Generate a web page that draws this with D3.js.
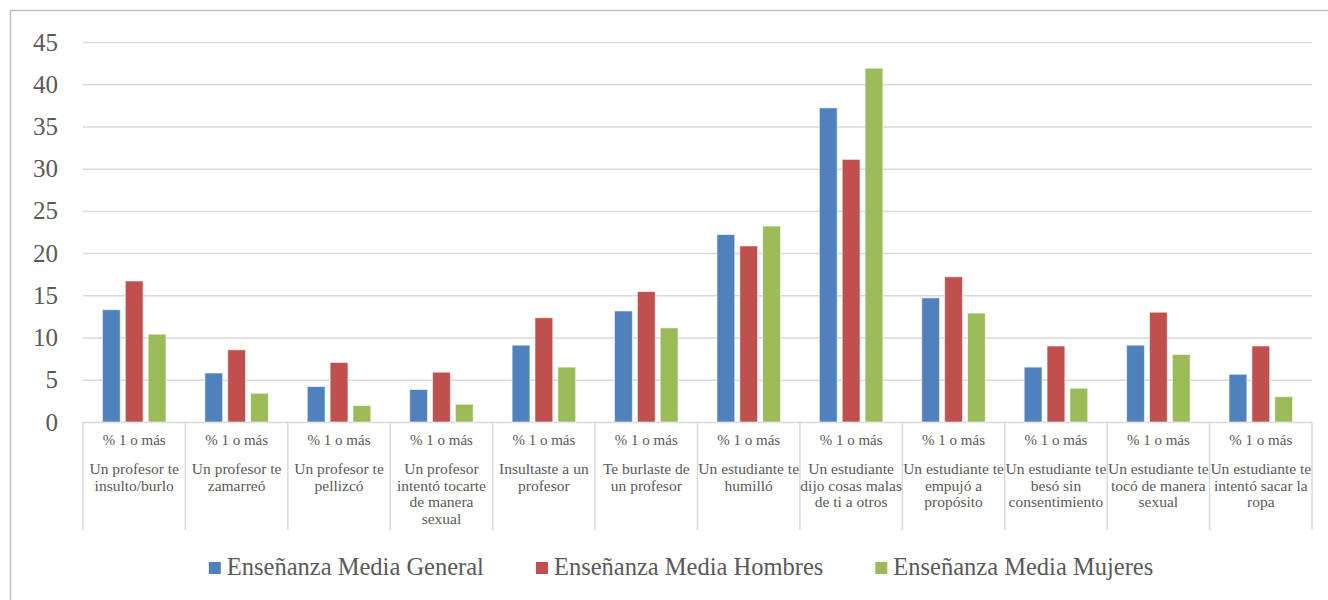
<!DOCTYPE html>
<html>
<head>
<meta charset="utf-8">
<script src="https://cdn.jsdelivr.net/npm/d3@7"></script>
<style>
	html, body { margin: 0; padding: 0; background: #fff; overflow: hidden; }
	svg { display: block; }
	text { font-family: 'Liberation Serif', 'Times New Roman', serif; fill: #595959; }
</style>
</head>
<body>
<div id="area1"></div>
<script>
// DATA
var subLabel = '% 1 o más';
var categories = [
	['Un profesor te', 'insulto/burlo'],
	['Un profesor te', 'zamarreó'],
	['Un profesor te', 'pellizcó'],
	['Un profesor', 'intentó tocarte', 'de manera', 'sexual'],
	['Insultaste a un', 'profesor'],
	['Te burlaste de', 'un profesor'],
	['Un estudiante te', 'humilló'],
	['Un estudiante', 'dijo cosas malas', 'de ti a otros'],
	['Un estudiante te', 'empujó a', 'propósito'],
	['Un estudiante te', 'besó sin', 'consentimiento'],
	['Un estudiante te', 'tocó de manera', 'sexual'],
	['Un estudiante te', 'intentó sacar la', 'ropa']
];
var seriesNames = ['Enseñanza Media General', 'Enseñanza Media Hombres', 'Enseñanza Media Mujeres'];
var general = [13.3, 5.8, 4.2, 3.85, 9.1, 13.15, 22.2, 37.2, 14.7, 6.5, 9.1, 5.65];
var hombres = [16.7, 8.55, 7.05, 5.9, 12.35, 15.45, 20.85, 31.1, 17.2, 9.0, 13.0, 9.0];
var mujeres = [10.4, 3.4, 1.95, 2.1, 6.5, 11.15, 23.2, 41.9, 12.9, 4.0, 8.0, 3.0];
var yTicks = [0, 5, 10, 15, 20, 25, 30, 35, 40, 45];
var colors = ['#4F81BD', '#C0504D', '#9BBB59'];

var seriesValues = [general, hombres, mujeres];

// BOUNDS
var width = 1328, height = 600;
var margin = {top: 42, left: 83},
	innerWidth = 1229,
	innerHeight = 380;

var svg = d3.select('#area1')
	.append('svg')
	.attr('width', width)
	.attr('height', height);

// outer frame (left + top only, picture is cropped)
svg.append('path')
	.attr('d', 'M10.5,' + height + 'V10.5H' + width)
	.attr('fill', 'none')
	.attr('stroke', '#BFBFBF')
	.attr('stroke-width', 1.5);

var chart = svg.append('g')
	.attr('transform', 'translate(' + margin.left + ',' + margin.top + ')');

// SCALE
var idx = d3.range(categories.length);
var x0 = d3.scaleBand().domain(idx).range([0, innerWidth]).padding(0);
var x1 = d3.scaleBand().domain([0, 1, 2]).range([0, x0.bandwidth()])
	.paddingInner(0.22).paddingOuter(0.85);
var yScale = d3.scaleLinear().domain([0, 45]).range([innerHeight, 0]);

// Y AXIS + GRID
var yAxis = chart.append('g')
	.call(d3.axisLeft(yScale).tickValues(yTicks).tickSize(-innerWidth).tickPadding(25));
yAxis.select('.domain').remove();
yAxis.attr('font-family', null);
yAxis.selectAll('line').attr('stroke', '#D9D9D9').attr('stroke-width', 1.5);
yAxis.selectAll('text')
	.style('font-family', "'Liberation Serif', serif")
	.style('font-size', '25px')
	.attr('fill', '#595959');

// BARS
idx.forEach(function(i) {
	var g = chart.append('g').attr('transform', 'translate(' + x0(i) + ',0)');
	seriesValues.forEach(function(vals, s) {
		g.append('rect')
			.attr('x', x1(s))
			.attr('width', x1.bandwidth())
			.attr('y', yScale(vals[i]))
			.attr('height', innerHeight - yScale(vals[i]))
			.attr('fill', colors[s])
			.attr('stroke', '#fff')
			.attr('stroke-opacity', 0.6)
			.attr('stroke-width', 1);
	});
});

// X CATEGORY DIVIDERS
var edges = idx.map(function(i) { return x0(i); }).concat([innerWidth]);
chart.selectAll('.divider')
	.data(edges)
	.enter().append('line')
	.attr('class', 'divider')
	.attr('x1', function(d) { return d; })
	.attr('x2', function(d) { return d; })
	.attr('y1', innerHeight)
	.attr('y2', innerHeight + 108)
	.attr('stroke', '#D9D9D9')
	.attr('stroke-width', 1.5);

// X LABELS
idx.forEach(function(i) {
	var cx = x0(i) + x0.bandwidth() / 2;
	chart.append('text')
		.attr('x', cx)
		.attr('y', innerHeight + 23)
		.attr('text-anchor', 'middle')
		.style('font-size', '15px')
		.text(subLabel);
	categories[i].forEach(function(line, k) {
		chart.append('text')
			.attr('x', cx)
			.attr('y', innerHeight + 52 + k * 16.7)
			.attr('text-anchor', 'middle')
			.style('font-size', '15.5px')
			.text(line);
	});
});

// LEGEND
var legend = svg.append('g');
var items = seriesNames.map(function(name, s) {
	var it = legend.append('g');
	it.append('rect')
		.attr('width', 12).attr('height', 12)
		.attr('y', -13)
		.attr('fill', colors[s]);
	var t = it.append('text')
		.attr('x', 18)
		.style('font-size', '24.5px')
		.text(name);
	return {g: it, w: 18 + t.node().getComputedTextLength()};
});
var gap = 52;
var total = d3.sum(items, function(d) { return d.w; }) + gap * (items.length - 1);
var lx = 681 - total / 2;
items.forEach(function(d) {
	d.g.attr('transform', 'translate(' + lx + ',575)');
	lx += d.w + gap;
});
</script>
</body>
</html>
